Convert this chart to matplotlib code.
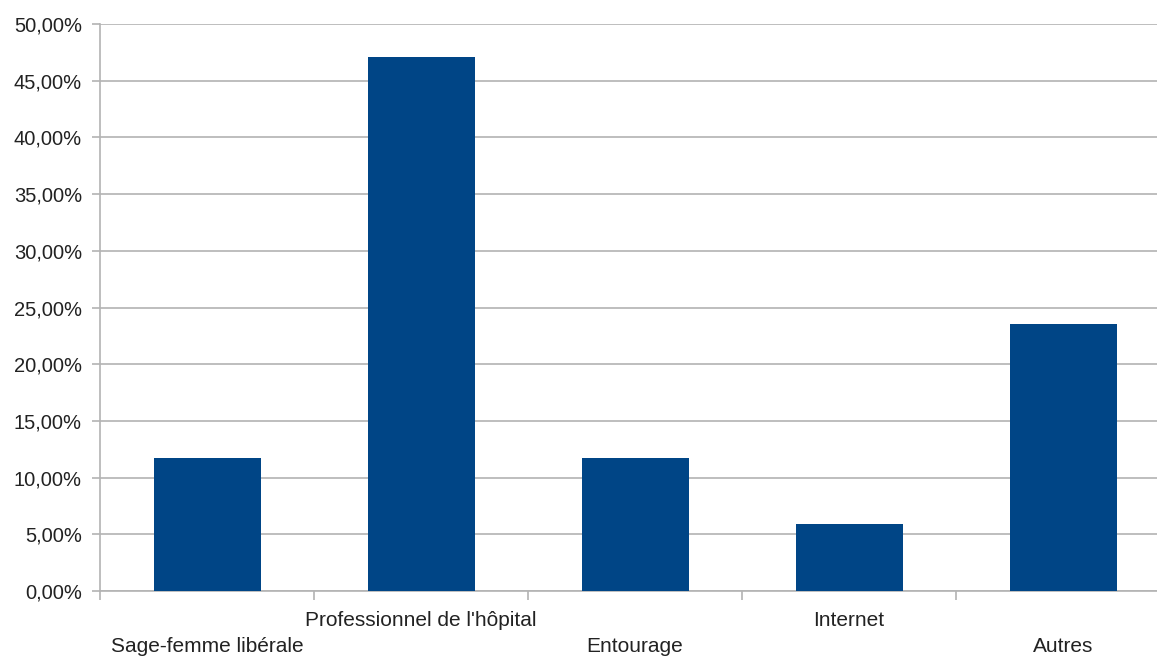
import matplotlib as mpl
mpl.use('Agg')
import matplotlib.pyplot as plt
from matplotlib.ticker import FuncFormatter, MultipleLocator
import numpy as np

categories = ['Sage-femme libérale', "Professionnel de l'hôpital", 'Entourage', 'Internet', 'Autres']
values = [11.76, 47.06, 11.76, 5.88, 23.53]

plt.rcParams['font.family'] = ['Liberation Sans', 'DejaVu Sans']

W, H = 1157, 659
fig = plt.figure(figsize=(W / 100, H / 100), dpi=100)
ax = fig.add_axes([100 / W, (H - 591) / H, 1070 / W, 567 / H])

x = np.arange(len(categories)) + 0.5
ax.bar(x, values, width=0.5, color='#004586', zorder=3)

ax.set_xlim(0, len(categories))
ax.set_ylim(0, 50)
ax.yaxis.set_major_locator(MultipleLocator(5))
ax.yaxis.set_major_formatter(FuncFormatter(lambda v, p: ('%.2f%%' % v).replace('.', ',')))
ax.grid(axis='y', color='#b3b3b3', linewidth=1.2, zorder=0)

for s in ['top', 'right']:
    ax.spines[s].set_visible(False)
for s in ['left', 'bottom']:
    ax.spines[s].set_color('#b3b3b3')
    ax.spines[s].set_linewidth(1.2)

ax.tick_params(axis='y', length=6, width=1.2, color='#b3b3b3', labelsize=14.5,
               labelcolor='#222222', pad=7)
ax.set_xticks(np.arange(len(categories) + 1))
ax.set_xticklabels([])
ax.tick_params(axis='x', length=6.5, width=1.2, color='#b3b3b3')

for i, (xi, lab) in enumerate(zip(x, categories)):
    yoff = -29 if i % 2 == 1 else -56
    ax.annotate(lab, (xi, 0), xycoords='data', xytext=(0, yoff), textcoords='offset pixels',
                ha='center', va='center', fontsize=15, color='#222222')

fig.savefig('out.png', dpi=100)
